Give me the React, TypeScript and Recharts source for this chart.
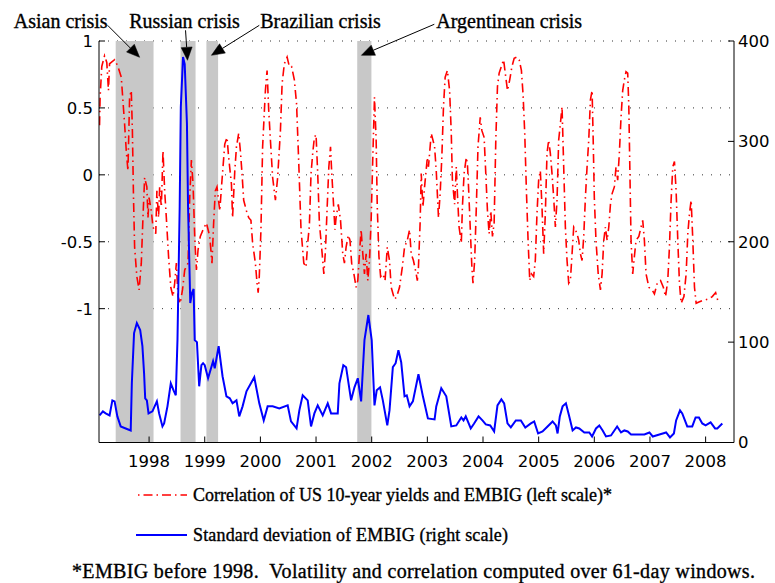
import React from 'react';
import {
  ComposedChart,
  Line,
  XAxis,
  YAxis,
  CartesianGrid,
  ReferenceArea,
  ReferenceLine,
} from 'recharts';

// ---------- tick labels ----------
const yearTicks = [1998, 1999, 2000, 2001, 2002, 2003, 2004, 2005, 2006, 2007, 2008];
const corrTicks = [-1, -0.5, 0, 0.5, 1];
const volTicks = [0, 100, 200, 300, 400];

// ---------- correlation series (left scale) ----------
const corrYears = [
  1997.11, 1997.12, 1997.15, 1997.2, 1997.24, 1997.27, 1997.29, 1997.32, 1997.38, 1997.44,
  1997.5, 1997.56, 1997.59, 1997.62, 1997.65, 1997.68, 1997.7, 1997.72, 1997.74, 1997.78,
  1997.82, 1997.86, 1997.89, 1997.92, 1997.96, 1997.98, 1998.0, 1998.04, 1998.07, 1998.12,
  1998.14, 1998.17, 1998.19, 1998.22, 1998.25, 1998.28, 1998.31, 1998.35, 1998.39, 1998.43,
  1998.46, 1998.49, 1998.52, 1998.56, 1998.6, 1998.64, 1998.7, 1998.73, 1998.76, 1998.79,
  1998.82, 1998.85, 1998.88, 1998.92, 1998.97, 1999.03, 1999.09, 1999.13, 1999.16, 1999.19,
  1999.22, 1999.27, 1999.31, 1999.36, 1999.4, 1999.43, 1999.48, 1999.5, 1999.54, 1999.57,
  1999.61, 1999.64, 1999.67, 1999.7, 1999.75, 1999.79, 1999.83, 1999.86, 1999.91, 1999.94,
  1999.96, 1999.98, 2000.01, 2000.04, 2000.09, 2000.12, 2000.15, 2000.18, 2000.22, 2000.27,
  2000.31, 2000.36, 2000.39, 2000.43, 2000.48, 2000.52, 2000.56, 2000.61, 2000.65, 2000.69,
  2000.73, 2000.78, 2000.82, 2000.85, 2000.88, 2000.91, 2000.94, 2000.97, 2001.0, 2001.03,
  2001.06, 2001.11, 2001.14, 2001.17, 2001.2, 2001.23, 2001.26, 2001.28, 2001.31, 2001.34,
  2001.36, 2001.4, 2001.44, 2001.48, 2001.51, 2001.54, 2001.58, 2001.61, 2001.64, 2001.68,
  2001.72, 2001.75, 2001.78, 2001.81, 2001.84, 2001.87, 2001.9, 2001.93, 2001.96, 2001.99,
  2002.02, 2002.05, 2002.08, 2002.1, 2002.13, 2002.16, 2002.2, 2002.24, 2002.28, 2002.32,
  2002.35, 2002.41, 2002.45, 2002.5, 2002.55, 2002.59, 2002.64, 2002.68, 2002.71, 2002.75,
  2002.8, 2002.82, 2002.84, 2002.87, 2002.89, 2002.92, 2002.95, 2003.0, 2003.02, 2003.07,
  2003.1, 2003.13, 2003.16, 2003.2, 2003.23, 2003.26, 2003.29, 2003.32, 2003.36, 2003.4,
  2003.43, 2003.45, 2003.49, 2003.52, 2003.54, 2003.57, 2003.61, 2003.63, 2003.66, 2003.7,
  2003.72, 2003.74, 2003.77, 2003.8, 2003.82, 2003.85, 2003.88, 2003.91, 2003.95, 2003.98,
  2004.02, 2004.05, 2004.08, 2004.11, 2004.14, 2004.17, 2004.2, 2004.23, 2004.26, 2004.29,
  2004.33, 2004.37, 2004.4, 2004.44, 2004.48, 2004.52, 2004.56, 2004.61, 2004.65, 2004.69,
  2004.72, 2004.75, 2004.78, 2004.81, 2004.84, 2004.87, 2004.91, 2004.94, 2004.97, 2005.0,
  2005.03, 2005.06, 2005.09, 2005.12, 2005.15, 2005.18, 2005.21, 2005.24, 2005.27, 2005.3,
  2005.33, 2005.36, 2005.39, 2005.42, 2005.45, 2005.48, 2005.51, 2005.54, 2005.57, 2005.6,
  2005.63, 2005.66, 2005.69, 2005.72, 2005.75, 2005.78, 2005.81, 2005.84, 2005.87, 2005.9,
  2005.93, 2005.96, 2005.98, 2006.0, 2006.03, 2006.07, 2006.11, 2006.14, 2006.17, 2006.2,
  2006.23, 2006.26, 2006.29, 2006.32, 2006.36, 2006.39, 2006.42, 2006.45, 2006.48, 2006.51,
  2006.54, 2006.57, 2006.6, 2006.62, 2006.64, 2006.66, 2006.69, 2006.72, 2006.75, 2006.8,
  2006.84, 2006.87, 2006.9, 2006.93, 2006.98, 2007.04, 2007.08, 2007.13, 2007.19, 2007.24,
  2007.28, 2007.32, 2007.35, 2007.38, 2007.41, 2007.44, 2007.47, 2007.5, 2007.53, 2007.56,
  2007.61, 2007.65, 2007.68, 2007.71, 2007.74, 2007.77, 2007.8, 2007.83, 2007.88, 2007.94,
  2008.03, 2008.12, 2008.18, 2008.22, 2008.24,
];
const corrValues = [
  0.37, 0.58, 0.81, 0.89, 0.84, 0.63, 0.83, 0.84, 0.86, 0.81,
  0.73, 0.38, 0.18, 0.03, 0.58, 0.63, 0.33, -0.17, -0.54, -0.76,
  -0.86, -0.66, -0.32, -0.02, -0.09, -0.32, -0.17, -0.27, -0.39, -0.44,
  -0.12, -0.32, -0.09, -0.24, 0.18, -0.12, -0.32, -0.61, -0.84, -0.91,
  -0.81, -0.66, -0.91, -0.96, -0.86, -0.71, -0.66, -0.17, 0.11, -0.07,
  -0.46, -0.71, -0.56, -0.46, -0.41, -0.36, -0.46, -0.66, -0.36, -0.12,
  -0.09, -0.27, -0.04, 0.23, 0.28, 0.13, -0.07, -0.32, 0.03, 0.21,
  0.31, 0.18, 0.01, -0.19, -0.27, -0.32, -0.34, -0.51, -0.66, -0.81,
  -0.88, -0.76, -0.41, 0.21, 0.63, 0.78, 0.48, 0.26, -0.02, -0.19,
  -0.02, 0.33, 0.68, 0.83, 0.88, 0.81, 0.81, 0.71, 0.53, 0.08,
  -0.41, -0.66, -0.69, -0.51, -0.38, 0.01, 0.16, 0.28, 0.3, 0.01,
  -0.36, -0.59, -0.74, -0.56, -0.24, 0.06, 0.21, 0.03, -0.19, -0.41,
  -0.32, -0.22, -0.34, -0.59, -0.66, -0.54, -0.45, -0.49, -0.66, -0.74,
  -0.84, -0.79, -0.59, -0.41, -0.59, -0.74, -0.59, -0.79, -0.64, -0.34,
  0.13, 0.58, 0.26, -0.24, -0.61, -0.76, -0.74, -0.79, -0.54, -0.64,
  -0.84, -0.93, -0.91, -0.84, -0.69, -0.54, -0.49, -0.41, -0.59, -0.64,
  -0.74, -0.79, -0.69, -0.36, 0.01, -0.24, -0.09, 0.13, 0.06, 0.31,
  0.26, 0.21, 0.03, -0.32, -0.14, 0.13, 0.51, 0.73, 0.78, 0.63,
  0.31, -0.04, -0.22, 0.06, -0.14, -0.39, -0.51, -0.24, 0.01, 0.13,
  0.08, -0.09, -0.39, -0.69, -0.81, -0.64, -0.24, 0.21, 0.43, 0.33,
  0.28, 0.01, -0.27, -0.44, -0.27, -0.46, -0.36, 0.26, 0.66, 0.76,
  0.81, 0.86, 0.76, 0.63, 0.71, 0.81, 0.87, 0.88, 0.86, 0.78,
  0.6, 0.31, -0.12, -0.49, -0.79, -0.74, -0.76, -0.64, -0.29, -0.04,
  0.03, -0.24, -0.59, -0.29, 0.16, 0.26, 0.16, 0.01, -0.17, -0.39,
  -0.19, 0.26, 0.38, 0.51, 0.06, -0.39, -0.64, -0.81, -0.79, -0.59,
  -0.39, -0.41, -0.44, -0.49, -0.59, -0.64, -0.46, -0.17, 0.06, 0.26,
  0.56, 0.63, 0.26, -0.17, -0.49, -0.74, -0.86, -0.74, -0.49, -0.39,
  -0.49, -0.39, -0.22, -0.14, -0.09, 0.06, -0.04, 0.16, 0.43, 0.63,
  0.71, 0.77, 0.76, 0.51, 0.01, -0.49, -0.74, -0.61, -0.49, -0.46,
  -0.39, -0.34, -0.49, -0.74, -0.84, -0.86, -0.89, -0.81, -0.79, -0.84,
  -0.91, -0.79, -0.54, -0.19, 0.06, 0.1, -0.12, -0.49, -0.81, -0.96,
  -0.91, -0.74, -0.44, -0.29, -0.19, -0.49, -0.84, -0.96, -0.95, -0.94,
  -0.93, -0.91, -0.88, -0.94, -0.96,
];

// ---------- volatility series (right scale) ----------
const volYears = [
  1997.11, 1997.17, 1997.22, 1997.29, 1997.34, 1997.38, 1997.43, 1997.49, 1997.58, 1997.67,
  1997.69, 1997.73, 1997.78, 1997.84, 1997.88, 1997.91, 1997.93, 1997.96, 1997.99, 1998.06,
  1998.14, 1998.18, 1998.24, 1998.27, 1998.33, 1998.39, 1998.44, 1998.48, 1998.51, 1998.55,
  1998.57, 1998.61, 1998.64, 1998.68, 1998.7, 1998.74, 1998.77, 1998.8, 1998.82, 1998.86,
  1998.9, 1998.94, 1998.97, 1999.0, 1999.06, 1999.15, 1999.18, 1999.25, 1999.32, 1999.39,
  1999.45, 1999.5, 1999.57, 1999.62, 1999.68, 1999.75, 1999.89, 1999.98, 2000.06, 2000.13,
  2000.22, 2000.34, 2000.49, 2000.55, 2000.65, 2000.7, 2000.76, 2000.85, 2000.91, 2000.97,
  2001.03, 2001.12, 2001.21, 2001.27, 2001.39, 2001.42, 2001.49, 2001.54, 2001.63, 2001.69,
  2001.75, 2001.81, 2001.87, 2001.94, 2002.0, 2002.05, 2002.09, 2002.15, 2002.2, 2002.28,
  2002.32, 2002.38, 2002.43, 2002.48, 2002.53, 2002.59, 2002.63, 2002.68, 2002.74, 2002.84,
  2002.92, 2003.01, 2003.13, 2003.16, 2003.25, 2003.34, 2003.43, 2003.52, 2003.61, 2003.65,
  2003.69, 2003.78, 2003.84, 2003.92, 2003.99, 2004.05, 2004.13, 2004.2, 2004.26, 2004.33,
  2004.38, 2004.44, 2004.5, 2004.59, 2004.68, 2004.76, 2004.86, 2004.92, 2004.99, 2005.07,
  2005.16, 2005.25, 2005.31, 2005.34, 2005.38, 2005.43, 2005.49, 2005.55, 2005.61, 2005.67,
  2005.73, 2005.82, 2005.91, 2005.96, 2006.03, 2006.09, 2006.15, 2006.21, 2006.3, 2006.41,
  2006.48, 2006.54, 2006.6, 2006.66, 2006.81, 2006.9, 2006.99, 2007.05, 2007.17, 2007.29,
  2007.36, 2007.43, 2007.47, 2007.54, 2007.58, 2007.67, 2007.76, 2007.82, 2007.88, 2007.94,
  2008.0, 2008.09, 2008.17, 2008.21, 2008.3,
];
const volValues = [
  27, 31, 29, 27, 42, 41, 26, 16, 14, 12,
  59, 109, 119, 112, 96, 69, 44, 42, 29, 31,
  41, 29, 16, 19, 36, 59, 52, 47, 102, 235,
  334, 384, 377, 318, 235, 139, 149, 153, 102, 100,
  56, 77, 79, 77, 64, 81, 74, 96, 66, 46,
  44, 39, 42, 26, 36, 51, 65, 39, 22, 36,
  36, 34, 37, 21, 14, 32, 47, 42, 16, 29,
  37, 27, 39, 29, 29, 59, 77, 75, 42, 55,
  64, 41, 102, 127, 102, 37, 52, 55, 42, 17,
  32, 75, 79, 92, 80, 46, 47, 36, 41, 68,
  46, 24, 23, 36, 54, 46, 16, 17, 25, 22,
  26, 14, 19, 26, 22, 18, 17, 11, 37, 43,
  39, 19, 15, 22, 22, 15, 19, 21, 9, 11,
  16, 21, 17, 9, 26, 36, 39, 26, 12, 15,
  14, 10, 10, 6, 14, 17, 12, 6, 7, 16,
  10, 12, 11, 8, 8, 8, 10, 6, 8, 10,
  5, 9, 22, 32, 29, 16, 16, 25, 25, 19,
  17, 20, 14, 14, 19,
];

// ---------- crisis bands and annotations ----------
const crisisNames = ['Asian crisis', 'Russian crisis', 'Brazilian crisis', 'Argentinean crisis'];
const crisisStart = [1997.4, 1998.565, 1999.03, 2001.74];
const crisisEnd = [1998.08, 1998.835, 1999.24, 2001.995];
const arrowFromYear = [1997.255, 1998.655, 1999.98, 2003.125];
const arrowFromLevel = [1.117, 1.08, 1.117, 1.125];
const arrowToYear = [1997.83, 1998.69, 1999.12, 2001.815];
const arrowToLevel = [0.878, 0.856, 0.893, 0.893];
const labelAnchor = ['end', 'middle', 'start', 'start'];
const labelDx = [0, -1, 1, 2];
const labelDy = [3, -2, 3, 4];

const seriesNames = [
  'Correlation of US 10-year yields and EMBIG (left scale)*',
  'Standard deviation of EMBIG (right scale)',
];
const footnote = '*EMBIG before 1998.  Volatility and correlation computed over 61-day windows.';

const corrData = corrYears.map((x, i) => ({ x, v: corrValues[i] }));
const volData = volYears.map((x, i) => ({ x, v: volValues[i] }));

const SERIF = '"Liberation Serif", "Times New Roman", serif';
const SANS = '"DejaVu Sans", sans-serif';
const RED = '#ff0000';
const BLUE = '#0000ff';
const DASHDOT = '9 4 1.5 4';
const TICK_FS = 16.5;
const TEXT_STROKE = 0.35;

const LeftTick = (p: any) => {
  const { x, y, payload } = p;
  return (
    <g>
      <line x1={x} x2={x + 6} y1={y} y2={y} stroke="#000" strokeWidth={1} />
      <text x={x - 6} y={y} dy="0.36em" textAnchor="end" fontFamily={SANS} fontSize={TICK_FS} fill="#000">
        {String(payload.value)}
      </text>
    </g>
  );
};

const RightTick = (p: any) => {
  const { x, y, payload } = p;
  return (
    <g>
      <line x1={x - 6} x2={x} y1={y} y2={y} stroke="#000" strokeWidth={1} />
      <text x={x + 4} y={y} dy="0.36em" textAnchor="start" fontFamily={SANS} fontSize={TICK_FS} fill="#000">
        {String(payload.value)}
      </text>
    </g>
  );
};

const BottomTick = (p: any) => {
  const { x, y, payload } = p;
  return (
    <g>
      <line x1={x} x2={x} y1={y} y2={y - 6} stroke="#000" strokeWidth={1} />
      <text x={x} y={y + 24.5} textAnchor="middle" fontFamily={SANS} fontSize={TICK_FS} fill="#000">
        {String(payload.value)}
      </text>
    </g>
  );
};

const makeArrow = (i: number) => (props: any) => {
  const { x1, y1, x2, y2 } = props;
  const ang = Math.atan2(y2 - y1, x2 - x1);
  const L = 13;
  const W = 5.5;
  const c = Math.cos(ang);
  const s = Math.sin(ang);
  const bx = x2 - L * c;
  const by = y2 - L * s;
  const pts = `${x2},${y2} ${bx - W * s},${by + W * c} ${bx + W * s},${by - W * c}`;
  return (
    <g>
      <line x1={x1} y1={y1} x2={bx} y2={by} stroke="#000" strokeWidth={1} />
      <polygon points={pts} fill="#000" stroke="#000" strokeWidth={0.5} />
      <text
        x={x1 + labelDx[i]}
        y={y1 + labelDy[i]}
        textAnchor={labelAnchor[i]}
        fontFamily={SERIF}
        fontSize={20}
        fill="#000"
        stroke="#000"
        strokeWidth={TEXT_STROKE}
      >
        {crisisNames[i]}
      </text>
    </g>
  );
};

export default function App() {
  return (
    <div style={{ position: 'absolute', left: 0, top: 0, width: 775, height: 583, background: '#fff' }}>
      <ComposedChart
        width={775}
        height={583}
        margin={{ top: 41, right: 0, bottom: 110.5, left: 0 }}
        style={{ position: 'absolute', left: 0, top: 0 }}
      >
        <CartesianGrid
          yAxisId="left"
          vertical={false}
          horizontal={true}
          stroke="#333"
          strokeDasharray="1 8"
          strokeWidth={1}
        />
        <XAxis
          type="number"
          dataKey="x"
          domain={[1997.1, 2008.51]}
          ticks={yearTicks}
          allowDataOverflow
          tickLine={false}
          tickSize={0}
          tickMargin={0}
          tick={BottomTick}
          axisLine={{ stroke: '#000', strokeWidth: 1 }}
          height={30}
          interval={0}
        />
        <YAxis
          yAxisId="left"
          orientation="left"
          type="number"
          domain={[-2, 1]}
          ticks={corrTicks}
          allowDataOverflow
          tickLine={false}
          tickSize={0}
          tickMargin={0}
          tick={LeftTick}
          axisLine={{ stroke: '#000', strokeWidth: 1 }}
          width={99}
          interval={0}
        />
        <YAxis
          yAxisId="right"
          orientation="right"
          type="number"
          domain={[0, 400]}
          ticks={volTicks}
          allowDataOverflow
          tickLine={false}
          tickSize={0}
          tickMargin={0}
          tick={RightTick}
          axisLine={{ stroke: '#000', strokeWidth: 1 }}
          width={41}
          interval={0}
        />
        {crisisStart.map((s, i) => (
          <ReferenceArea
            key={`band-${i}`}
            yAxisId="left"
            x1={s}
            x2={crisisEnd[i]}
            y1={-2}
            y2={1}
            fill="#c8c8c8"
            fillOpacity={1}
            stroke="none"
            ifOverflow="hidden"
          />
        ))}
        <Line
          yAxisId="left"
          data={corrData}
          dataKey="v"
          type="linear"
          stroke={RED}
          strokeWidth={1.6}
          strokeDasharray={DASHDOT}
          dot={false}
          activeDot={false}
          isAnimationActive={false}
          name={seriesNames[0]}
        />
        <Line
          yAxisId="right"
          data={volData}
          dataKey="v"
          type="linear"
          stroke={BLUE}
          strokeWidth={2}
          dot={false}
          activeDot={false}
          isAnimationActive={false}
          name={seriesNames[1]}
        />
        {crisisNames.map((n, i) => (
          <ReferenceLine
            key={`arrow-${i}`}
            yAxisId="left"
            segment={[
              { x: arrowFromYear[i], y: arrowFromLevel[i] },
              { x: arrowToYear[i], y: arrowToLevel[i] },
            ]}
            ifOverflow="visible"
            stroke="#000"
            shape={makeArrow(i)}
          />
        ))}
      </ComposedChart>
      <svg
        width={775}
        height={583}
        style={{ position: 'absolute', left: 0, top: 0, pointerEvents: 'none' }}
      >
        <line
          x1={136}
          x2={187}
          y1={495}
          y2={495}
          stroke={RED}
          strokeWidth={1.6}
          strokeDasharray={DASHDOT}
          strokeDashoffset={11}
        />
        <text
          x={193}
          y={501}
          fontFamily={SERIF}
          fontSize={18}
          fill="#000"
          stroke="#000"
          strokeWidth={TEXT_STROKE}
          textLength={419}
          lengthAdjust="spacing"
        >
          {seriesNames[0]}
        </text>
        <line x1={136} x2={187} y1={535} y2={535} stroke={BLUE} strokeWidth={2} />
        <text
          x={193}
          y={541}
          fontFamily={SERIF}
          fontSize={18}
          fill="#000"
          stroke="#000"
          strokeWidth={TEXT_STROKE}
          textLength={315}
          lengthAdjust="spacing"
        >
          {seriesNames[1]}
        </text>
        <text
          x={72}
          y={578}
          fontFamily={SERIF}
          fontSize={20}
          fill="#000"
          stroke="#000"
          strokeWidth={TEXT_STROKE}
          textLength={683}
          lengthAdjust="spacing"
          style={{ whiteSpace: 'pre' }}
        >
          {footnote}
        </text>
      </svg>
    </div>
  );
}
